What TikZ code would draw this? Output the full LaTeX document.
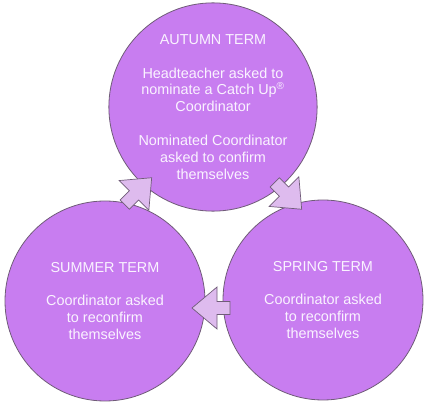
\documentclass[tikz,border=0pt]{standalone}
\usepackage{fontspec}
\setmainfont{Liberation Sans}
\definecolor{termfill}{RGB}{200,125,240}
\definecolor{arrowfill}{RGB}{222,187,238}
\definecolor{termedge}{RGB}{112,92,120}
\definecolor{termtext}{RGB}{250,243,255}

\begin{document}
\begin{tikzpicture}[
  x=1pt,y=-1pt,
  term/.style={circle,draw=termedge,line width=0.8pt,fill=termfill,
    minimum size=200pt,inner sep=0pt,text=termtext,align=center,
    font=\fontsize{14.4}{16.9}\selectfont},
  arrowbox/.style={draw=termedge,line width=0.7pt,fill=arrowfill},
  termarrow/.pic={
    \path[arrowbox] (0,-6.5) -- (13,-6.5) -- (13,-21) -- (38,0)
      -- (13,21) -- (13,6.5) -- (0,6.5) -- cycle;}
]
  \path[use as bounding box] (0,0) rectangle (429,406);

  % the three terms
  \node[term] (autumn) at (213,107) {AUTUMN TERM\\[16.9pt]
    Headteacher asked to\\ nominate a Catch Up\textsuperscript{\textregistered}\\ Coordinator\\[16.9pt]
    Nominated Coordinator\\ asked to confirm\\ themselves};
  \node[term] (summer) at (105,301) {SUMMER TERM\\[16.9pt]
    Coordinator asked\\ to reconfirm\\ themselves};
  \node[term] (spring) at (323,300) {SPRING TERM\\[16.9pt]
    Coordinator asked\\ to reconfirm\\ themselves};

  % block arrows between them
  \coordinate (sumaut) at (124.8,204.6);
  \coordinate (autspr) at (274.8,182.4);
  \coordinate (sprsum) at (230,308);
  \pic[rotate=45] at (sumaut) {termarrow};
  \pic[rotate=-45] at (autspr) {termarrow};
  \pic[rotate=180] at (sprsum) {termarrow};
\end{tikzpicture}
\end{document}
